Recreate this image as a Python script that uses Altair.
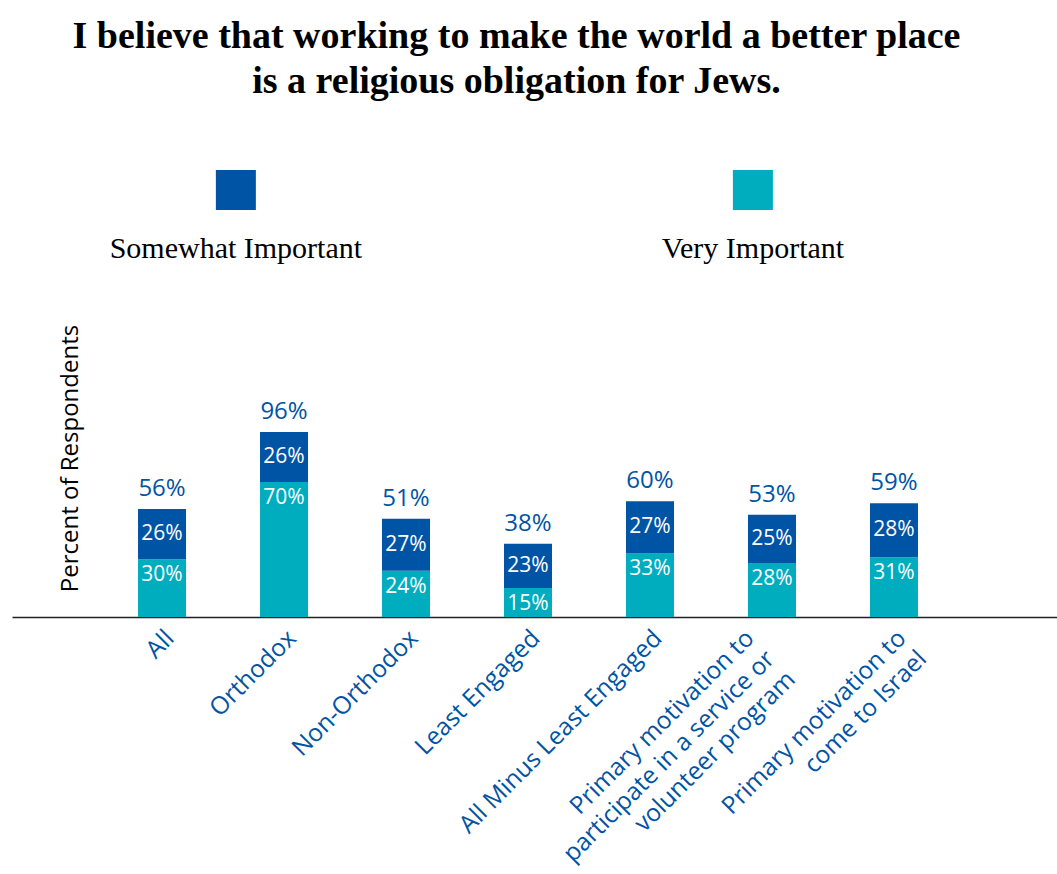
import altair as alt
import pandas as pd

# ---- data ----
categories = [
    "All",
    "Orthodox",
    "Non-Orthodox",
    "Least Engaged",
    "All Minus Least Engaged",
    "Primary motivation to|participate in a service or|volunteer program",
    "Primary motivation to|come to Israel",
]
very_important = [30, 70, 24, 15, 33, 28, 31]
somewhat_important = [26, 26, 27, 23, 27, 25, 28]
totals = [56, 96, 51, 38, 60, 53, 59]

series_names = ["Somewhat Important", "Very Important"]
series_colors = ["#0054A5", "#00ADBF"]
BLUE = "#0054A5"

title_lines = [
    "I believe that working to make the world a better place",
    "is a religious obligation for Jews.",
]

# ---- tables ----
rows = []
for c, v, s in zip(categories, very_important, somewhat_important):
    rows.append({"category": c, "series": "Very Important", "value": v, "order": 0})
    rows.append({"category": c, "series": "Somewhat Important", "value": s, "order": 1})
bars_df = pd.DataFrame(rows)

lab_df = pd.DataFrame({
    "category": categories,
    "very": very_important,
    "somewhat": somewhat_important,
    "total": totals,
})
lab_df["som_mid"] = lab_df["very"] + lab_df["somewhat"] / 2
lab_df["very_lbl"] = lab_df["very"].astype(str) + "%"
lab_df["som_lbl"] = lab_df["somewhat"].astype(str) + "%"
lab_df["tot_lbl"] = lab_df["total"].astype(str) + "%"

leg_df = pd.DataFrame({"series": series_names})

SANS = "Open Sans"
SERIF = "Liberation Serif"

color_scale = alt.Scale(domain=series_names, range=series_colors)

x_enc = alt.X(
    "category:N",
    sort=categories,
    scale=alt.Scale(paddingInner=0, paddingOuter=0.783, align=0.466),
    axis=alt.Axis(
        title=None,
        labelAngle=-45,
        labelAlign="right",
        labelBaseline="top",
        labelPadding=9,
        labelOffset={
            "condition": {"test": "indexof(datum.value, 'service') >= 0", "value": -30},
            "value": 0,
        },
        ticks=False,
        domainColor="#222222",
        domainWidth=1.6,
        labelFont=SANS,
        labelFontSize=24.5,
        labelColor=BLUE,
        labelExpr="split(datum.label, '|')",
        labelLineHeight=29,
        labelLimit=500,
        labelOverlap=False,
    ),
)

y_scale = alt.Scale(domain=[0, 165], nice=False, zero=True)
y_axis = alt.Axis(
    title="Percent of Respondents",
    domain=False,
    ticks=False,
    labels=False,
    grid=False,
    titleFont=SANS,
    titleFontSize=24,
    titleFontWeight="normal",
    titleColor="black",
    titleAngle=-90,
    titleBaseline="middle",
    titleAlign="center",
    titleX=58,
    titleY=159,
)

bars = alt.Chart(bars_df).mark_bar(width=48).encode(
    x=x_enc,
    y=alt.Y("value:Q", stack="zero", scale=y_scale, axis=y_axis),
    color=alt.Color("series:N", scale=color_scale, legend=None),
    order=alt.Order("order:Q"),
)

base_lab = alt.Chart(lab_df)
tot_text = base_lab.mark_text(
    font=SANS, fontSize=24, color=BLUE, baseline="alphabetic", dy=-13
).encode(x=x_enc, y=alt.Y("total:Q", scale=y_scale, axis=y_axis), text="tot_lbl:N")
som_text = base_lab.mark_text(
    font=SANS, fontSize=21, color="white", baseline="middle"
).encode(x=x_enc, y=alt.Y("som_mid:Q", scale=y_scale, axis=y_axis), text="som_lbl:N")
very_text = base_lab.mark_text(
    font=SANS, fontSize=21, color="white", baseline="middle", dy=16
).encode(x=x_enc, y=alt.Y("very:Q", scale=y_scale, axis=y_axis), text="very_lbl:N")

main = alt.layer(bars, tot_text, som_text, very_text).properties(width=1045, height=318)

leg_x = alt.X(
    "series:N",
    sort=series_names,
    scale=alt.Scale(type="point", padding=0.5106, align=0.424),
    axis=None,
)
leg_sq = alt.Chart(leg_df).mark_square(size=1600, filled=True, opacity=1).encode(
    x=leg_x,
    y=alt.value(20),
    color=alt.Color("series:N", scale=color_scale, legend=None),
)
leg_tx = alt.Chart(leg_df).mark_text(
    font=SERIF, fontSize=30, color="black", baseline="alphabetic", dy=68
).encode(x=leg_x, y=alt.value(20), text="series:N")
legend_panel = alt.layer(leg_sq, leg_tx).properties(width=1045, height=40)

chart = alt.vconcat(legend_panel, main, spacing=89, bounds="flush").properties(
    title=alt.TitleParams(
        text=title_lines,
        font=SERIF,
        fontSize=38,
        fontWeight="bold",
        color="black",
        anchor="middle",
        lineHeight=45,
        offset=69,
        dx=-18,
    ),
    padding={"left": 12, "right": 0, "top": 18, "bottom": 0},
).configure_view(stroke=None)

chart.save("out.html", embed_options={"renderer": "svg", "actions": False})
